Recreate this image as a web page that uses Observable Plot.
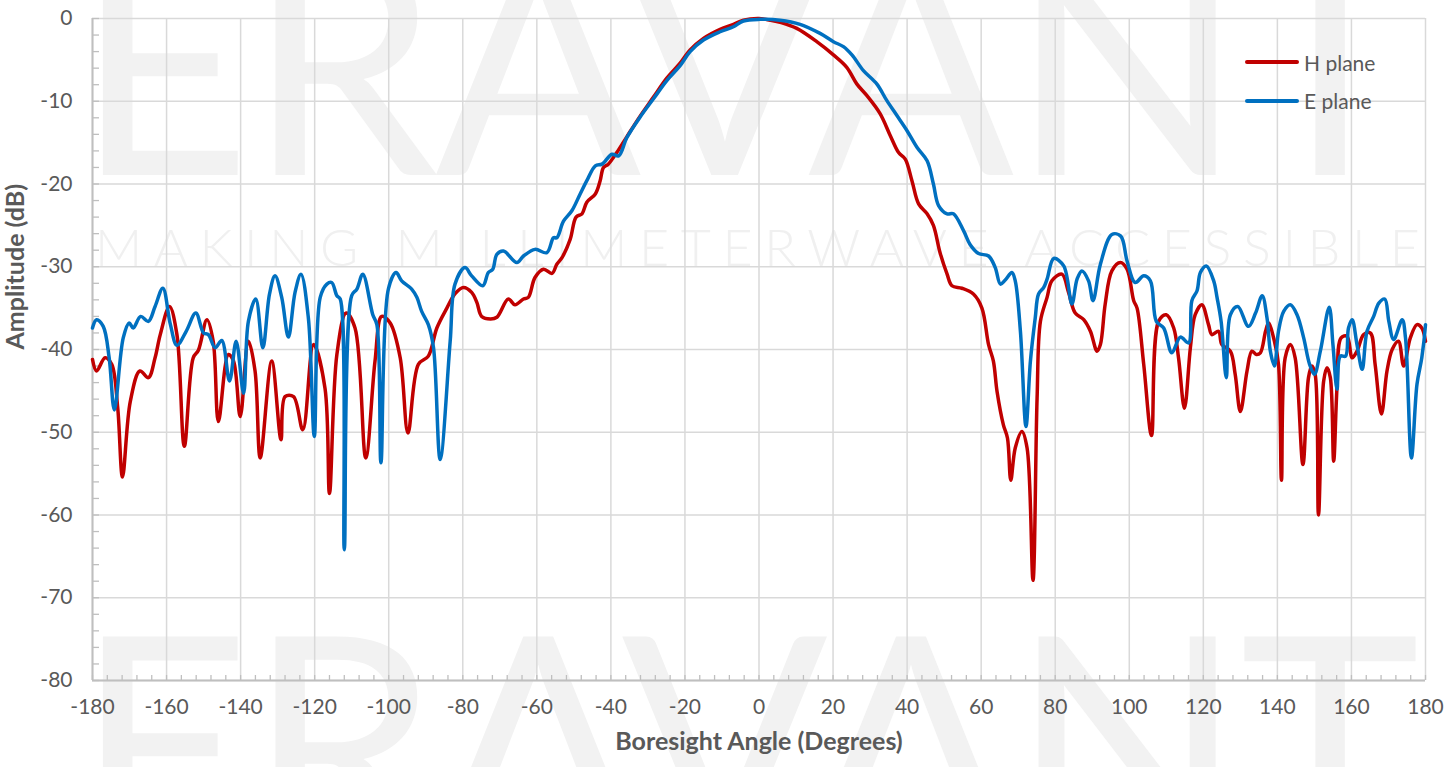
<!DOCTYPE html>
<html><head><meta charset="utf-8">
<script src="https://cdn.jsdelivr.net/npm/d3@7"></script>
<script src="https://cdn.jsdelivr.net/npm/@observablehq/plot@0.6"></script>
<style>
html,body{margin:0;padding:0;background:#fff;}
#wrap{position:relative;width:1445px;height:767px;overflow:hidden;font-family:Lato,sans-serif;background:#fff;}
#wm{position:absolute;left:0;top:0;}
#chart{position:absolute;left:0;top:0;}
#legend{position:absolute;left:1245px;top:43px;color:#595959;font-size:21px;font-family:Lato,sans-serif;}
.item{display:flex;align-items:center;height:38.4px;}
.sw{width:54px;height:4px;margin-right:5px;border-radius:2px;}
</style></head>
<body>
<div id="wrap">
<svg id="wm" width="1445" height="767">
  <text x="75" y="175" font-family="Lato" font-weight="400" font-size="305" fill="#f2f2f2" textLength="1345" lengthAdjust="spacing">ERAVANT</text>
  <text x="95" y="266" font-family="Lato" font-weight="300" font-size="52" fill="#f0f0f0" textLength="1325" lengthAdjust="spacing">MAKING MILLIMETERWAVE ACCESSIBLE</text>
  <text x="75" y="855" font-family="Lato" font-weight="400" font-size="305" fill="#f2f2f2" textLength="1345" lengthAdjust="spacing">ERAVANT</text>
</svg>
<div id="chart"></div>
<div id="legend"></div>
</div>
<script>
// H plane (red)
const hAngle = [-180,-178.9,-176.6,-174.8,-173.2,-171.9,-169.8,-167.2,-164.9,-163.1,-161.7,-159.2,-157.2,-155.2,-152.8,-151.4,-149.1,-147.4,-146.0,-143.3,-141.9,-140.1,-137.9,-136.1,-134.7,-131.6,-129.1,-128.0,-125.7,-123.2,-120.3,-117.2,-116.0,-114.0,-111.5,-109.1,-106.2,-103.7,-101.9,-99.6,-96.9,-94.8,-92.0,-89.3,-87.0,-84.3,-82,-79.8,-77.6,-76.2,-74.9,-72.5,-70.8,-67.7,-65.9,-63.6,-62.3,-60.5,-58.2,-55.9,-54.6,-53.2,-51.0,-49.4,-47.8,-46.5,-44.2,-42.9,-42.0,-40.7,-38.4,-35.7,-32.1,-28.5,-24.9,-21.3,-18.6,-15.0,-10.5,-6.9,-4.2,0,3,6,10.2,15.6,20.1,23.7,26.4,29.1,32.7,35.4,37.7,39.5,41.3,43.1,45.4,47.1,48.9,50.8,52.1,54.8,57.9,60.2,62.0,63.3,64.3,66.0,67.1,68.0,69.2,71.0,72.4,74.0,75.1,76.0,77.8,79.1,81.8,83.6,85.4,87.7,89.5,91.3,92.2,93.5,95.3,97.6,99.4,101.2,102.1,103.9,106.0,107.9,110.0,112.0,113.3,114.9,116.5,117.8,119.6,121.4,122.3,124.1,125.0,127.3,128.6,130.0,131.8,133.1,134.3,135.4,136.8,137.6,139.2,140.3,141.1,142.1,143.5,144.8,146.9,148.4,149.3,150.2,151.1,152.5,153.4,154.3,155.2,156.1,157.2,158.8,160.2,161.5,163.3,165.1,166.4,168.1,169.6,171.0,172.7,174.1,175.9,177.7,179.0,180];
const hAmp = [-41.2,-42.6,-41.0,-41.8,-47,-55.4,-46.3,-42.6,-43.4,-41.0,-38.2,-34.8,-38.2,-51.7,-41.0,-40.1,-36.4,-39.0,-48.7,-40.6,-41.4,-48.1,-39.0,-42.6,-53.1,-41.4,-50.9,-45.7,-45.7,-49.7,-39.4,-44.7,-57.4,-40.6,-35.6,-37.4,-53.1,-41.4,-36.0,-36.8,-41.0,-50.1,-41.8,-40.8,-37.4,-35.0,-33.2,-32.5,-33.1,-34.3,-36.0,-36.3,-36.1,-33.9,-34.6,-33.9,-33.7,-31.3,-30.3,-30.8,-29.7,-28.9,-26.7,-24.0,-23.6,-22.2,-21.2,-19.6,-18.0,-17.6,-16.2,-14.3,-11.8,-9.5,-7.2,-5.4,-3.8,-2.4,-1.3,-0.7,-0.2,0,-0.2,-0.5,-1.2,-2.8,-4.4,-5.9,-7.9,-9.3,-11.5,-14.1,-16.2,-17.0,-19.6,-22.4,-23.6,-25.0,-28.3,-30.9,-32.3,-32.6,-33.3,-35.0,-39.4,-41.4,-45.1,-49.1,-50.7,-55.8,-51.9,-49.9,-51.9,-67.9,-45.9,-36.6,-33.7,-31.7,-30.9,-33.1,-35.6,-36.4,-37.8,-40.2,-39.4,-34.5,-30.5,-29.5,-30.3,-34.1,-35.0,-41.8,-50.4,-36.6,-35.8,-37.4,-41.0,-47.1,-39.8,-35.8,-34.6,-37.0,-38.2,-37.8,-39.4,-40.2,-43.0,-47.5,-42.6,-40.2,-40.6,-40.4,-37.8,-36.8,-39.0,-41.8,-55.8,-41.0,-39.4,-41.0,-53.9,-43.4,-42.0,-43.0,-60.0,-43.8,-42.2,-43.4,-53.5,-44.6,-38.6,-38.4,-41.0,-40.2,-38.2,-38.0,-41.8,-47.8,-42.6,-40.0,-39.0,-42.0,-38.6,-37.0,-37.4,-39.0];

// E plane (blue)
const eAngle = [-180,-178.9,-177.1,-175.5,-174.1,-171.7,-170.1,-169.0,-167.0,-164.9,-163.1,-161.0,-159.0,-157.2,-154.7,-152.1,-150.0,-148.7,-146.9,-145.1,-143.0,-141.2,-139.2,-137.9,-135.9,-134.0,-132.2,-130.7,-128.9,-127.1,-125.3,-123.7,-121.7,-120.1,-118.5,-116.7,-115.4,-114.0,-113.1,-112.0,-110.0,-108.6,-107.0,-104.3,-103.2,-102.1,-100.1,-98.0,-96.5,-93.8,-92.4,-91.1,-89.3,-87.9,-86.1,-83.4,-82.1,-79.4,-77.6,-74.6,-73.1,-71.9,-70.8,-69.0,-65.4,-63.6,-60.5,-57.3,-55.5,-54.6,-52.8,-50.5,-48.3,-46.5,-44.2,-42.4,-39.7,-37.9,-35.7,-32.1,-28.5,-24.9,-21.3,-18.6,-15.0,-10.5,-6.9,-4.2,0.3,5.7,11.1,16.5,20.1,22.8,25.1,28.2,31.8,34.5,37.2,39.9,42.7,45.4,47.1,48.5,50.8,52.5,55.3,57.0,59.3,62.0,63.8,65.2,66.5,68.3,69.2,70.6,72.1,73.3,74.6,75.5,76.9,77.8,79.6,82.3,84.5,85.9,87.2,89.0,90.2,92.2,95.3,97.7,99.4,101.6,103.9,105.7,107.3,109.3,111.5,113.8,116.0,116.9,118.3,119.2,120.8,122.8,123.7,124.8,126.2,127.3,129.3,132.2,134.1,135.9,137.2,138.1,139.2,140.3,141.7,143.5,145.3,147.1,148.7,150.0,151.6,154.0,155.0,156.1,157.0,158.4,159.2,160.2,161.5,162.9,164.2,166.0,167.4,169.0,170.1,171.4,173.7,174.6,176.2,177.7,179.0,180];
const eAmp = [-37.4,-36.4,-37.2,-41,-47.3,-38.6,-36.8,-37.4,-36.0,-36.6,-34.8,-32.6,-36.9,-39.5,-37.8,-35.6,-38.0,-38.2,-39.8,-38.9,-43.8,-39.0,-45.3,-36.6,-33.9,-39.8,-33.3,-31.1,-33.7,-38.5,-33.1,-30.9,-36.2,-50.5,-33.7,-32.1,-31.9,-33.5,-33.9,-64.2,-33.5,-32.7,-30.9,-35.8,-37.0,-53.7,-32.7,-30.7,-31.7,-32.7,-33.7,-35.4,-37.0,-39.8,-53.3,-39.0,-32.1,-30.1,-31.1,-32.3,-30.7,-30.3,-28.5,-28.1,-29.5,-28.7,-27.9,-28.3,-26.5,-26.5,-24.5,-23.2,-21.2,-19.6,-17.8,-17.6,-16.4,-16.6,-14.4,-11.9,-9.7,-7.5,-5.7,-4.0,-2.6,-1.6,-1.0,-0.3,-0.1,-0.2,-0.7,-1.8,-2.8,-3.4,-4.4,-6.3,-7.9,-9.9,-11.7,-13.5,-15.6,-17.2,-20.0,-22.6,-23.6,-23.6,-25.7,-27.3,-28.4,-28.7,-30.1,-32.1,-31.6,-30.7,-31.7,-37.8,-49.3,-41.4,-36.2,-33.3,-32.5,-31.5,-29.0,-29.9,-34.5,-31.5,-30.5,-31.7,-34.1,-29.7,-26.1,-26.3,-29.3,-31.9,-31.1,-31.7,-36.6,-37.4,-40.4,-38.5,-39.2,-34.1,-32.9,-30.7,-29.9,-31.7,-33.7,-36.6,-43.4,-35.8,-34.8,-37.2,-35.6,-33.5,-36.2,-40.2,-42.0,-37.8,-35.4,-34.6,-35.8,-38.6,-41.8,-43.0,-40.2,-34.9,-39.4,-44.8,-40.8,-40.8,-37.4,-36.4,-39.4,-42.4,-37.8,-36.0,-34.4,-33.9,-36.6,-38.8,-36.4,-38.6,-53.1,-44.2,-41.0,-37.0];

const seriesNames = ["H plane", "E plane"];
const seriesColors = ["#c00000", "#0070c0"];
const xTicks = d3.range(-180, 181, 20);
const yTicks = d3.range(-80, 1, 10);
const xMinor = d3.range(-180, 181, 4);
const yMinor = d3.range(-80, 1, 2);
const xTitle = "Boresight Angle (Degrees)";
const yTitle = "Amplitude (dB)";

const hData = hAngle.map((a, i) => ({angle: a, amp: hAmp[i], series: seriesNames[0]}));
const eData = eAngle.map((a, i) => ({angle: a, amp: eAmp[i], series: seriesNames[1]}));

const chart = Plot.plot({
  width: 1445, height: 767,
  marginLeft: 92, marginRight: 20, marginTop: 18, marginBottom: 87,
  style: {background: "transparent", fontFamily: "Lato, sans-serif", color: "#595959", overflow: "visible"},
  x: {domain: [-180, 180]},
  y: {domain: [-80, 0]},
  color: {domain: seriesNames, range: seriesColors},
  marks: [
    Plot.gridX(xTicks, {stroke: "#d9d9d9", strokeOpacity: 1, strokeWidth: 1.5}),
    Plot.gridY(yTicks, {stroke: "#d9d9d9", strokeOpacity: 1, strokeWidth: 1.5}),
    Plot.axisX(xMinor, {tickSize: -5, fill: "none", stroke: "#bfbfbf", strokeWidth: 1.3, label: null}),
    Plot.axisY(yMinor, {tickSize: -7, fill: "none", stroke: "#bfbfbf", strokeWidth: 1.3, label: null}),
    Plot.ruleY([-80], {stroke: "#bfbfbf", strokeWidth: 2}),
    Plot.ruleX([-180], {stroke: "#bfbfbf", strokeWidth: 2}),
    Plot.axisX(xTicks, {tickSize: 0, tickPadding: 19, tickFormat: d => String(d), fontSize: 21, label: null}),
    Plot.axisY(yTicks, {tickSize: 0, tickPadding: 20, tickFormat: d => String(d), fontSize: 21, label: null}),
    Plot.line(hData, {x: "angle", y: "amp", stroke: "series", strokeWidth: 3.5, curve: "catmull-rom"}),
    Plot.line(eData, {x: "angle", y: "amp", stroke: "series", strokeWidth: 3.5, curve: "catmull-rom"}),
    Plot.text([xTitle], {frameAnchor: "bottom", dy: 69, fontWeight: "bold", fontSize: 25, fill: "#595959"}),
    Plot.text([yTitle], {frameAnchor: "left", dx: -77, rotate: -90, fontWeight: "bold", fontSize: 25, fill: "#595959"})
  ]
});
document.getElementById("chart").appendChild(chart);

const legend = document.getElementById("legend");
seriesNames.forEach((name, i) => {
  const item = document.createElement("div");
  item.className = "item";
  const sw = document.createElement("div");
  sw.className = "sw";
  sw.style.background = seriesColors[i];
  const lab = document.createElement("span");
  lab.textContent = name;
  item.appendChild(sw);
  item.appendChild(lab);
  legend.appendChild(item);
});
</script>
</body></html>
